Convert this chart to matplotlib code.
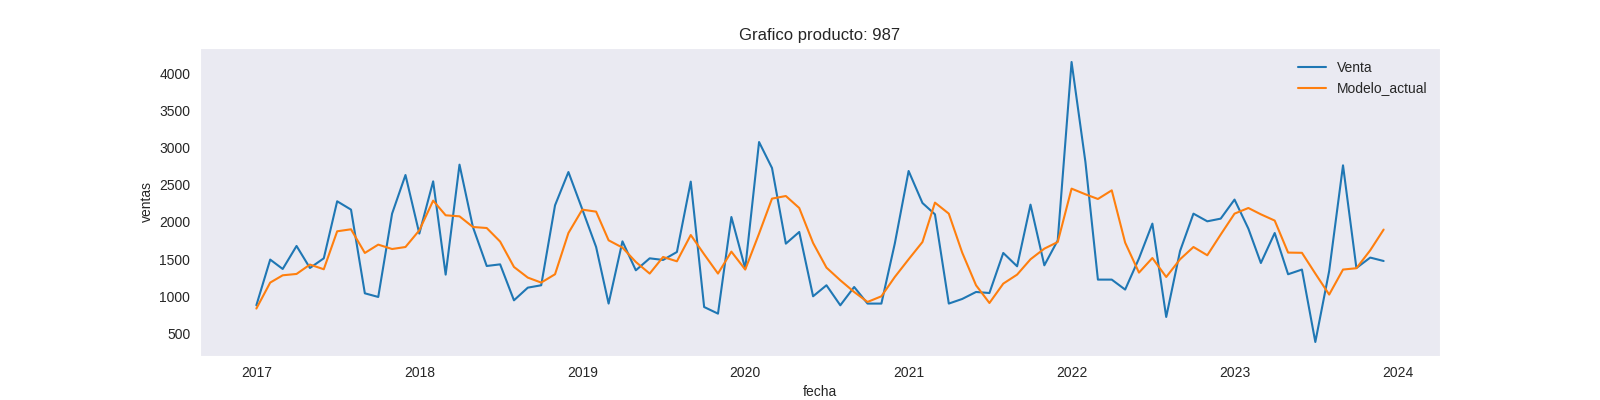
import numpy as np
import pandas as pd
import matplotlib
matplotlib.use("Agg")
import matplotlib.pyplot as plt
import seaborn as sns

fechas = pd.date_range("2017-01-01", "2023-12-01", freq="MS")

venta = [880, 1494, 1368, 1677, 1381, 1511, 2277, 2165, 1041, 992, 2111, 2630,
         1843, 2545, 1292, 2769, 1932, 1408, 1430, 947, 1117, 1149, 2223, 2670,
         2170, 1663, 903, 1739, 1350, 1511, 1489, 1596, 2541, 857, 768, 2066,
         1373, 3073, 2724, 1708, 1865, 1001, 1149, 880, 1126, 903, 903, 1708,
         2684, 2254, 2102, 903, 965, 1059, 1045, 1583, 1404, 2232, 1417, 1753,
         4148, 2805, 1225, 1225, 1091, 1510, 1977, 723, 1609, 2111, 2008, 2044,
         2300, 1910, 1448, 1851, 1297, 1360, 387, 1340, 2760, 1381, 1521, 1475]

modelo_actual = [836, 1185, 1283, 1301, 1427, 1364, 1874, 1901, 1583, 1695, 1636, 1663,
                 1887, 2286, 2089, 2075, 1932, 1918, 1736, 1395, 1252, 1185, 1297, 1851,
                 2165, 2138, 1753, 1655, 1462, 1306, 1529, 1471, 1824, 1565, 1306, 1601,
                 1360, 1843, 2313, 2348, 2187, 1717, 1386, 1216, 1059, 925, 1001, 1260,
                 1498, 1730, 2259, 2111, 1588, 1149, 911, 1171, 1292, 1498, 1641, 1730,
                 2447, 2371, 2308, 2424, 1722, 1319, 1515, 1260, 1498, 1663, 1552, 1830,
                 2111, 2187, 2102, 2018, 1588, 1585, 1306, 1024, 1360, 1378, 1619, 1897]

sns.set_style("dark")
plt.rcParams["font.family"] = ["Liberation Sans", "DejaVu Sans"]

fig, ax = plt.subplots(figsize=(16, 4), dpi=100)
ax.plot(fechas, venta, label="Venta")
ax.plot(fechas, modelo_actual, label="Modelo_actual")

ax.set_title("Grafico producto: 987", fontsize=12)
ax.set_xlabel("fecha")
ax.set_ylabel("ventas")
ax.legend(loc="upper right", frameon=False)

plt.savefig("out.png", dpi=100)
